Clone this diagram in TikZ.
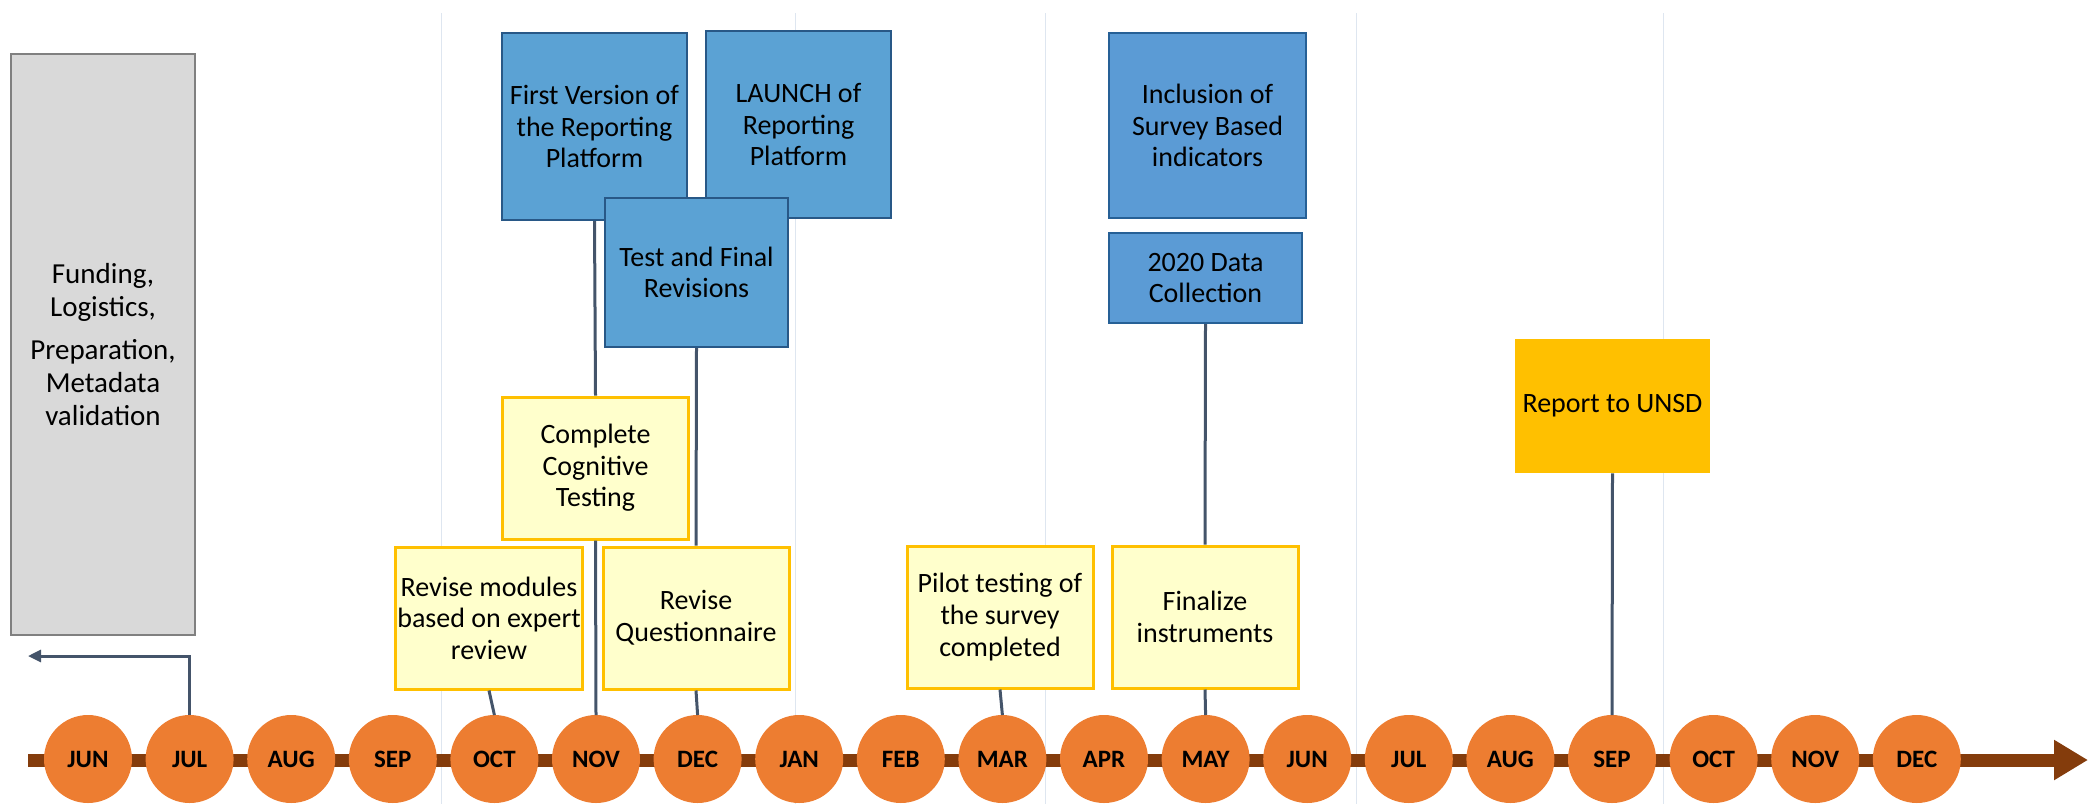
\documentclass[tikz,border=0pt]{standalone}
\usepackage{fontspec}
\setmainfont{Carlito}
\usepackage{xcolor}
\usetikzlibrary{arrows.meta,positioning}
\definecolor{platblue}{RGB}{91,162,212}
\definecolor{platedge}{RGB}{40,88,135}
\definecolor{survblue}{RGB}{91,155,213}
\definecolor{survedge}{RGB}{38,96,150}
\definecolor{taskfill}{RGB}{255,255,204}
\definecolor{taskedge}{RGB}{255,192,0}
\definecolor{repfill}{RGB}{255,192,0}
\definecolor{prepfill}{RGB}{217,217,217}
\definecolor{prepedge}{RGB}{128,128,128}
\definecolor{monthfill}{RGB}{237,125,49}
\definecolor{barbrown}{RGB}{132,60,12}
\definecolor{linkgray}{RGB}{68,84,106}
\definecolor{gridline}{RGB}{222,230,240}
\begin{document}
\begin{tikzpicture}[
  x=0.5pt,y=-0.5pt,
  node distance=6.8pt,
  font=\fontsize{14}{15.8}\selectfont,
  prepbox/.style={rectangle,draw=prepedge,fill=prepfill,line width=1pt,align=center,inner sep=1pt,font=\fontsize{14.5}{16.5}\selectfont},
  platbox/.style={rectangle,draw=platedge,fill=platblue,line width=1pt,align=center,inner sep=1pt},
  survbox/.style={rectangle,draw=survedge,fill=survblue,line width=1pt,align=center,inner sep=1pt},
  taskbox/.style={rectangle,draw=taskedge,fill=taskfill,line width=1.5pt,align=center,inner sep=1pt,minimum width=93pt,minimum height=71pt},
  repbox/.style={rectangle,fill=repfill,align=center,inner sep=1pt},
  month/.style={circle,fill=monthfill,minimum size=44pt,inner sep=0pt,outer sep=0pt,font=\fontsize{12.5}{13}\selectfont\bfseries},
  link/.style={draw=linkgray,line width=1.5pt},
  tlbar/.style={draw=barbrown,line width=6.5pt,-{Triangle[length=17pt,width=19pt]}},
  gridrule/.style={draw=gridline,line width=0.5pt}
]
\useasboundingbox (0,0) rectangle (2088,804);
\draw[gridrule] (441,13) -- (441,804) (795,13) -- (795,804) (1045,13) -- (1045,804)
  (1356,13) -- (1356,804) (1663,13) -- (1663,804);

% time line
\coordinate (barstart) at (28,760);
\coordinate (barend) at (2088,760);
\draw[tlbar] (barstart) -- (barend);

\node[month] (jun1) at (88,759) {JUN};
\node[month,right=of jun1] (jul1) {JUL};
\node[month,right=of jul1] (aug1) {AUG};
\node[month,right=of aug1] (sep1) {SEP};
\node[month,right=of sep1] (oct1) {OCT};
\node[month,right=of oct1] (nov1) {NOV};
\node[month,right=of nov1] (dec1) {DEC};
\node[month,right=of dec1] (jan2) {JAN};
\node[month,right=of jan2] (feb2) {FEB};
\node[month,right=of feb2] (mar2) {MAR};
\node[month,right=of mar2] (apr2) {APR};
\node[month,right=of apr2] (may2) {MAY};
\node[month,right=of may2] (jun2) {JUN};
\node[month,right=of jun2] (jul2) {JUL};
\node[month,right=of jul2] (aug2) {AUG};
\node[month,right=of aug2] (sep2) {SEP};
\node[month,right=of sep2] (oct2) {OCT};
\node[month,right=of oct2] (nov2) {NOV};
\node[month,right=of nov2] (dec2) {DEC};

% tasks
\node[prepbox,minimum width=92pt,minimum height=290.5pt] (prep) at (103,344.5) {Funding,\\Logistics,\\[5pt]Preparation,\\Metadata\\validation};
\node[platbox,minimum width=92.5pt,minimum height=93.5pt] (firstver) at (594.5,126.5) {First Version of\\the Reporting\\Platform};
\node[platbox,minimum width=92.5pt,minimum height=93.5pt] (launch) at (798.5,124.5) {LAUNCH of\\Reporting\\Platform};
\node[platbox,minimum width=91.5pt,minimum height=74.5pt] (testrev) at (696.5,272.5) {Test and Final\\Revisions};
\node[survbox,minimum width=98.5pt,minimum height=92.5pt] (survey) at (1207.5,125.5) {Inclusion of\\Survey Based\\indicators};
\node[survbox,minimum width=96.5pt,minimum height=45pt] (datacoll) at (1205.5,278) {2020 Data\\Collection};
\node[taskbox] (cogtest) at (595.5,468) {Complete\\Cognitive\\Testing};
\node[taskbox] (revmod) at (489,618) {Revise modules\\based on expert\\review};
\node[taskbox] (revquest) at (696,618) {Revise\\Questionnaire};
\node[taskbox] (pilot) at (1000,617) {Pilot testing of\\the survey\\completed};
\node[taskbox] (finalize) at (1205,617) {Finalize\\instruments};
\node[repbox,minimum width=97.5pt,minimum height=67pt] (report) at (1612.5,406) {Report to UNSD};

\draw[link] (firstver.south) -- (cogtest.north);
\draw[link] (cogtest.south) -- (nov1.north);
\draw[link] (testrev.south) -- (revquest.north);
\draw[link] (revquest.south) -- (dec1.north);
\draw[link] (datacoll.south) -- (finalize.north);
\draw[link] (finalize.south) -- (may2.north);
\draw[link] (revmod.south) -- (oct1.north);
\draw[link] (pilot.south) -- (mar2.north);
\draw[link] (report.south) -- (sep2.north);
\coordinate (backarr) at (28,656);
\draw[link,-{Triangle[length=6.5pt,width=6pt]}] (jul1.north) |- (backarr);
\end{tikzpicture}
\end{document}
